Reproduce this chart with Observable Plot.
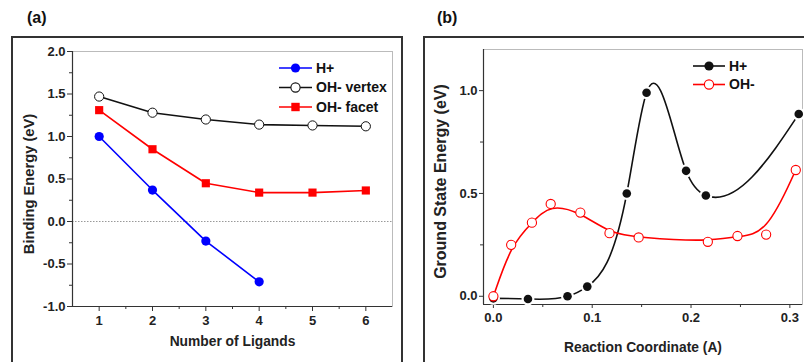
<!DOCTYPE html>
<html>
<head>
<meta charset="utf-8">
<script src="https://cdn.jsdelivr.net/npm/d3@7"></script>
<script src="https://cdn.jsdelivr.net/npm/@observablehq/plot@0.6"></script>
<style>
  html, body { margin: 0; padding: 0; background: #fff; }
  #wrap { position: relative; width: 804px; height: 362px; overflow: hidden; background: #fff;
          font-family: "Liberation Sans", Arial, sans-serif; }
  .panel-label { position: absolute; font-weight: bold; font-size: 16px; color: #111; }
  .box { position: absolute; border: 2px solid #333; }
  .abs { position: absolute; top: 0; }
  #wrap svg { max-width: none !important; }
</style>
</head>
<body>
<div id="wrap">
  <div class="box" style="left:11px; top:36px; width:388px; height:340px;"></div>
  <div class="box" style="left:423px; top:36px; width:400px; height:340px;"></div>
  <div class="panel-label" style="left:27px; top:9px;">(a)</div>
  <div class="panel-label" style="left:437px; top:9px;">(b)</div>
  <div id="pa" class="abs" style="left:0px; width:404px;"></div>
  <div id="pb" class="abs" style="left:400px; width:420px;"></div>
  <svg id="leg" class="abs" style="left:0px;" width="804" height="362"></svg>
</div>
<script>
// ---------- Panel (a) data ----------
const ligands = [1, 2, 3, 4, 5, 6];
const hPlusA = [1.00, 0.37, -0.23, -0.71];
const ohVertex = [1.47, 1.28, 1.20, 1.14, 1.13, 1.12];
const ohFacet = [1.31, 0.85, 0.45, 0.34, 0.34, 0.365];
const seriesA = ["H+", "OH- vertex", "OH- facet"];
const xTicksA = [1, 2, 3, 4, 5, 6];
const xMinorA = [1.5, 2.5, 3.5, 4.5, 5.5];
const yTicksA = [-1, -0.5, 0, 0.5, 1, 1.5, 2];
const yMinorA = [-0.75, -0.25, 0.25, 0.75, 1.25, 1.75];
const xLabelA = "Number of Ligands";
const yLabelA = "Binding Energy (eV)";

// ---------- Panel (b) data ----------
const coordH = [0, 0.035, 0.075, 0.095, 0.135, 0.155, 0.195, 0.215, 0.309];
const energyH = [-0.01, -0.013, 0.0, 0.047, 0.50, 0.99, 0.61, 0.49, 0.886];
const coordOH = [0, 0.018, 0.039, 0.058, 0.088, 0.1175, 0.147, 0.217, 0.247, 0.276, 0.306];
const energyOH = [0.0, 0.25, 0.358, 0.449, 0.407, 0.307, 0.286, 0.265, 0.293, 0.30, 0.614];
const seriesB = ["H+", "OH-"];
const xTicksB = [0, 0.1, 0.2, 0.3];
const xMinorB = [0.05, 0.15, 0.25];
const yTicksB = [0, 0.5, 1.0];
const yMinorB = [0.25, 0.75];
const xLabelB = "Reaction Coordinate (A)";
const yLabelB = "Ground State Energy (eV)";

const fmt = d => d.toFixed(1);
const FONT = "Liberation Sans, Arial, sans-serif";
const AX = "#333";

// Natural cubic spline in x (like Origin's "Spline" connection), as a d3 curve factory
function splineX(context) {
  let xs, ys;
  return {
    areaStart() {}, areaEnd() {},
    lineStart() { xs = []; ys = []; },
    point(x, y) { xs.push(+x); ys.push(+y); },
    lineEnd() {
      const n = xs.length;
      if (!n) return;
      context.moveTo(xs[0], ys[0]);
      if (n === 1) return;
      if (n === 2) { context.lineTo(xs[1], ys[1]); return; }
      const h = [];
      for (let i = 0; i < n - 1; i++) h[i] = xs[i + 1] - xs[i];
      const M = new Array(n).fill(0);
      const cp = new Array(n).fill(0), dp = new Array(n).fill(0);
      for (let i = 1; i < n - 1; i++) {
        const a = h[i - 1], b = 2 * (h[i - 1] + h[i]), c = h[i];
        const d = 6 * ((ys[i + 1] - ys[i]) / h[i] - (ys[i] - ys[i - 1]) / h[i - 1]);
        const den = b - a * cp[i - 1];
        cp[i] = c / den;
        dp[i] = (d - a * dp[i - 1]) / den;
      }
      for (let i = n - 2; i >= 1; i--) M[i] = dp[i] - cp[i] * M[i + 1];
      for (let i = 0; i < n - 1; i++) {
        const hh = h[i], s = (ys[i + 1] - ys[i]) / hh;
        const m0 = s - hh * (2 * M[i] + M[i + 1]) / 6;
        const m1 = s + hh * (M[i] + 2 * M[i + 1]) / 6;
        context.bezierCurveTo(xs[i] + hh / 3, ys[i] + m0 * hh / 3,
                              xs[i + 1] - hh / 3, ys[i + 1] - m1 * hh / 3,
                              xs[i + 1], ys[i + 1]);
      }
    }
  };
}

const dA_H = hPlusA.map((v, i) => ({x: ligands[i], y: v}));
const dA_V = ohVertex.map((v, i) => ({x: ligands[i], y: v}));
const dA_F = ohFacet.map((v, i) => ({x: ligands[i], y: v}));

const plotA = Plot.plot({
  width: 404, height: 362,
  marginLeft: 72, marginTop: 51, marginRight: 12, marginBottom: 56,
  style: {fontFamily: FONT, fontWeight: "bold", fontSize: "13px", color: "#222", background: "transparent", overflow: "visible"},
  x: {domain: [0.5, 6.5]},
  y: {domain: [-1, 2]},
  marks: [
    Plot.frame({stroke: "#bbb", strokeWidth: 1}),
    Plot.ruleY([0], {stroke: "#999", strokeDasharray: "1.5,1.5", strokeWidth: 1}),
    Plot.axisX({ticks: xTicksA, tickFormat: d => String(d), tickSize: 5, tickPadding: 4, label: null, stroke: AX, fontSize: 13}),
    Plot.axisX({ticks: xMinorA, tickFormat: () => "", tickSize: 3, label: null, stroke: AX}),
    Plot.axisY({ticks: yTicksA, tickFormat: fmt, tickSize: 5, tickPadding: 2, label: null, stroke: AX, fontSize: 13}),
    Plot.axisY({ticks: yMinorA, tickFormat: () => "", tickSize: 3, label: null, stroke: AX}),
    Plot.ruleX([0.5], {stroke: AX, strokeWidth: 1.2}),
    Plot.ruleY([-1], {stroke: AX, strokeWidth: 1.2}),
    Plot.text([xLabelA], {frameAnchor: "bottom", dy: 35, lineAnchor: "middle", textAnchor: "middle", text: d => d, fontSize: 13.8, fontWeight: "bold", fill: "#222"}),
    Plot.text([yLabelA], {frameAnchor: "left", dx: -43.3, dy: 5, rotate: -90, textAnchor: "middle", lineAnchor: "middle", text: d => d, fontSize: 14.7, fontWeight: "bold", fill: "#222"}),
    Plot.line(dA_V, {x: "x", y: "y", stroke: "#111", strokeWidth: 1.6}),
    Plot.line(dA_F, {x: "x", y: "y", stroke: "#ff0000", strokeWidth: 1.6}),
    Plot.line(dA_H, {x: "x", y: "y", stroke: "#0000ff", strokeWidth: 1.6}),
    Plot.dot(dA_V, {x: "x", y: "y", r: 4.6, fill: "white", stroke: "#111", strokeWidth: 1}),
    Plot.dot(dA_F, {x: "x", y: "y", symbol: "square", r: 4.6, fill: "#ff0000", stroke: "none"}),
    Plot.dot(dA_H, {x: "x", y: "y", r: 4.6, fill: "#0000ff", stroke: "none"})
  ]
});
document.getElementById("pa").appendChild(plotA);

const dB_H = energyH.map((v, i) => ({x: coordH[i], y: v}));
const dB_O = energyOH.map((v, i) => ({x: coordOH[i], y: v}));

const plotB = Plot.plot({
  width: 420, height: 362,
  marginLeft: 83, marginTop: 49, marginRight: 18, marginBottom: 58,
  style: {fontFamily: FONT, fontWeight: "bold", fontSize: "13px", color: "#222", background: "transparent", overflow: "visible"},
  x: {domain: [-0.01, 0.3128]},
  y: {domain: [-0.04, 1.2]},
  marks: [
    Plot.frame({stroke: "#bbb", strokeWidth: 1}),
    Plot.axisX({ticks: xTicksB, tickFormat: fmt, tickSize: 4, tickPadding: 4, label: null, stroke: AX, fontSize: 13}),
    Plot.axisX({ticks: xMinorB, tickFormat: () => "", tickSize: 3, label: null, stroke: AX}),
    Plot.axisY({ticks: yTicksB, tickFormat: fmt, tickSize: 4, tickPadding: 2, label: null, stroke: AX, fontSize: 13}),
    Plot.axisY({ticks: yMinorB, tickFormat: () => "", tickSize: 3, label: null, stroke: AX}),
    Plot.ruleX([-0.01], {stroke: AX, strokeWidth: 1.2}),
    Plot.ruleY([-0.04], {stroke: AX, strokeWidth: 1.2}),
    Plot.text([xLabelB], {frameAnchor: "bottom", dy: 42.7, lineAnchor: "middle", textAnchor: "middle", text: d => d, fontSize: 13.8, fontWeight: "bold", fill: "#222"}),
    Plot.text([yLabelB], {frameAnchor: "left", dx: -42.5, dy: 4.5, rotate: -90, textAnchor: "middle", lineAnchor: "middle", text: d => d, fontSize: 16, fontWeight: "bold", fill: "#222"}),
    Plot.line(dB_H, {x: "x", y: "y", curve: splineX, stroke: "#111", strokeWidth: 1.6}),
    Plot.dot(dB_H, {x: "x", y: "y", r: 6.5, fill: "white", stroke: "none"}),
    Plot.dot(dB_H, {x: "x", y: "y", r: 4.3, fill: "#111", stroke: "none"}),
    Plot.line(dB_O, {x: "x", y: "y", curve: "basis", stroke: "#ff0000", strokeWidth: 1.6}),
    Plot.dot(dB_O, {x: "x", y: "y", r: 4.6, fill: "white", stroke: "#ff0000", strokeWidth: 1.1})
  ]
});
document.getElementById("pb").appendChild(plotB);

// ---------- Legends ----------
const leg = d3.select("#leg");
function legendItem(x0, x1, y, color, marker, fill, label, fs) {
  leg.append("line").attr("x1", x0).attr("x2", x1).attr("y1", y).attr("y2", y)
    .attr("stroke", color).attr("stroke-width", 1.6);
  const cx = (x0 + x1) / 2;
  if (marker === "square") {
    leg.append("rect").attr("x", cx - 4.2).attr("y", y - 4.2).attr("width", 8.4).attr("height", 8.4).attr("fill", fill);
  } else {
    leg.append("circle").attr("cx", cx).attr("cy", y).attr("r", 4.6).attr("fill", fill)
      .attr("stroke", color).attr("stroke-width", fill === "white" ? 1.1 : 0);
  }
  leg.append("text").attr("x", x1 + 4).attr("y", y).attr("dy", "0.35em")
    .attr("font-family", FONT).attr("font-weight", "bold").attr("font-size", fs).attr("fill", "#111").text(label);
}
const colorsA = ["#0000ff", "#111", "#ff0000"];
const markersA = ["circle", "circle", "square"];
const fillsA = ["#0000ff", "white", "#ff0000"];
seriesA.forEach((s, i) => legendItem(279, 312, 68 + i * 19.5, colorsA[i], markersA[i], fillsA[i], s, 14));
const colorsB = ["#111", "#ff0000"];
const fillsB = ["#111", "white"];
seriesB.forEach((s, i) => legendItem(693, 725, 66 + i * 18.5, colorsB[i], "circle", fillsB[i], s, 14));
</script>
</body>
</html>
